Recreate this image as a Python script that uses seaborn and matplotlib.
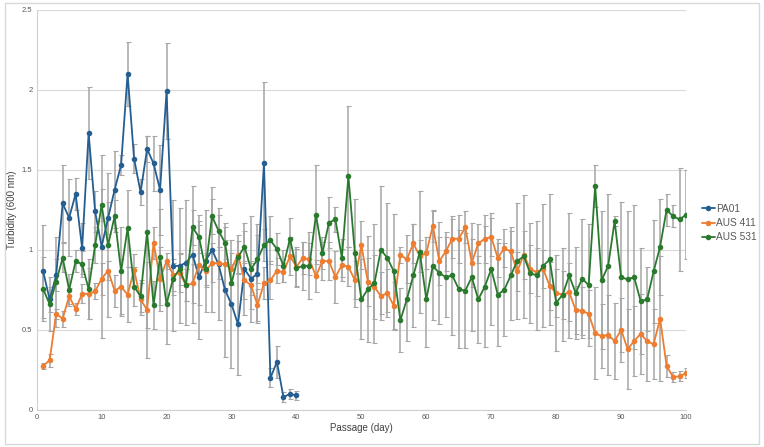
#Turbidity over passage days for three strains, with error bars
import numpy as np
import pandas as pd
import seaborn as sns
import matplotlib.pyplot as plt
from matplotlib.patches import Rectangle

#Data
pa01_days = list(range(1, 41))
pa01 = [0.865, 0.69, 0.84, 1.29, 1.20, 1.35, 1.01, 1.73, 1.24, 1.02,
        1.20, 1.375, 1.53, 2.10, 1.57, 1.36, 1.63, 1.54, 1.375, 1.99,
        0.90, 0.90, 0.92, 0.97, 0.83, 0.93, 1.00, 0.91, 0.75, 0.66,
        0.535, 0.88, 0.82, 0.85, 1.54, 0.20, 0.30, 0.08, 0.10, 0.09]
pa01_err = [0.29, 0.08, 0.10, 0.24, 0.24, 0.10, 0.16, 0.29, 0.13, 0.57,
            0.10, 0.24, 0.06, 0.20, 0.09, 0.08, 0.08, 0.17, 0.28, 0.30,
            0.41, 0.36, 0.39, 0.43, 0.39, 0.32, 0.39, 0.35, 0.42, 0.40,
            0.32, 0.29, 0.10, 0.31, 0.51, 0.06, 0.10, 0.03, 0.03, 0.03]

days = list(range(1, 101))
aus411 = [0.275, 0.31, 0.60, 0.57, 0.71, 0.63, 0.725, 0.725, 0.74, 0.82,
          0.87, 0.745, 0.77, 0.72, 0.875, 0.69, 0.625, 1.045, 0.82, 0.93,
          0.845, 0.855, 0.78, 0.79, 0.905, 0.865, 0.92, 0.915, 0.91, 0.88,
          0.97, 0.81, 0.78, 0.655, 0.79, 0.81, 0.87, 0.86, 0.96, 0.895,
          0.95, 0.94, 0.835, 0.93, 0.93, 0.83, 0.905, 0.895, 0.81, 1.03,
          0.80, 0.77, 0.71, 0.73, 0.65, 0.97, 0.94, 1.04, 0.96, 0.98,
          1.15, 0.93, 0.99, 1.07, 1.07, 1.14, 0.92, 1.04, 1.07, 1.08,
          0.95, 1.01, 0.99, 0.865, 0.97, 0.88, 0.86, 0.88, 0.775, 0.73,
          0.72, 0.735, 0.625, 0.62, 0.60, 0.48, 0.46, 0.47, 0.43, 0.50,
          0.38, 0.43, 0.475, 0.43, 0.41, 0.57, 0.275, 0.205, 0.21, 0.23]
aus411_err = [0.02, 0.04, 0.03, 0.05, 0.05, 0.04, 0.06, 0.16, 0.05, 0.10,
              0.06, 0.10, 0.17, 0.17, 0.10, 0.10, 0.30, 0.10, 0.20, 0.05,
              0.10, 0.12, 0.10, 0.12, 0.25, 0.10, 0.12, 0.10, 0.15, 0.10,
              0.12, 0.12, 0.15, 0.10, 0.10, 0.12, 0.08, 0.06, 0.12, 0.12,
              0.10, 0.10, 0.10, 0.12, 0.12, 0.16, 0.10, 0.12, 0.12, 0.15,
              0.15, 0.20, 0.15, 0.15, 0.15, 0.05, 0.15, 0.12, 0.10, 0.10,
              0.10, 0.15, 0.12, 0.12, 0.15, 0.10, 0.15, 0.12, 0.15, 0.12,
              0.12, 0.12, 0.15, 0.12, 0.15, 0.15, 0.15, 0.12, 0.15, 0.15,
              0.15, 0.18, 0.15, 0.15, 0.15, 0.29, 0.20, 0.25, 0.235, 0.20,
              0.25, 0.22, 0.25, 0.25, 0.22, 0.39, 0.07, 0.03, 0.03, 0.03]

aus531 = [0.755, 0.66, 0.80, 0.95, 0.75, 0.93, 0.91, 0.755, 1.03, 1.28,
          1.03, 1.21, 0.865, 1.135, 0.77, 0.71, 1.11, 0.655, 0.955, 0.66,
          0.82, 0.88, 0.78, 1.14, 1.08, 0.88, 1.21, 1.12, 1.045, 0.79,
          0.955, 1.02, 0.88, 0.94, 1.03, 1.06, 1.005, 0.90, 1.07, 0.885,
          0.90, 0.90, 1.22, 0.98, 1.17, 1.19, 0.95, 1.46, 0.98, 0.69,
          0.755, 0.79, 1.00, 0.95, 0.865, 0.56, 0.69, 0.84, 0.985, 0.69,
          0.90, 0.855, 0.83, 0.84, 0.755, 0.745, 0.83, 0.69, 0.77, 0.88,
          0.72, 0.75, 0.84, 0.93, 0.96, 0.855, 0.84, 0.90, 0.94, 0.67,
          0.72, 0.84, 0.73, 0.82, 0.78, 1.40, 0.81, 0.90, 1.18, 0.83,
          0.815, 0.83, 0.68, 0.69, 0.865, 1.02, 1.25, 1.21, 1.19, 1.22]
aus531_err = [0.20, 0.17, 0.28, 0.09, 0.10, 0.07, 0.08, 0.19, 0.11, 0.10,
              0.45, 0.10, 0.28, 0.24, 0.12, 0.10, 0.60, 0.15, 0.30, 0.25,
              0.10, 0.10, 0.10, 0.11, 0.10, 0.10, 0.11, 0.10, 0.10, 0.12,
              0.10, 0.10, 0.33, 0.15, 0.10, 0.15, 0.10, 0.10, 0.13, 0.12,
              0.15, 0.21, 0.31, 0.10, 0.16, 0.08, 0.12, 0.44, 0.34, 0.25,
              0.33, 0.37, 0.40, 0.34, 0.36, 0.20, 0.26, 0.32, 0.38, 0.30,
              0.34, 0.32, 0.25, 0.37, 0.37, 0.36, 0.34, 0.27, 0.38, 0.35,
              0.32, 0.29, 0.28, 0.36, 0.385, 0.31, 0.34, 0.385, 0.41, 0.30,
              0.29, 0.39, 0.29, 0.37, 0.38, 0.13, 0.43, 0.45, 0.03, 0.47,
              0.43, 0.45, 0.33, 0.20, 0.32, 0.30, 0.10, 0.07, 0.32, 0.28]

names = ["PA01", "AUS 411", "AUS 531"]
colors = {"PA01": "#255E91", "AUS 411": "#ED7D31", "AUS 531": "#2A7A2E"}

df = pd.concat([
    pd.DataFrame({"day": pa01_days, "value": pa01, "err": pa01_err, "series": "PA01"}),
    pd.DataFrame({"day": days, "value": aus411, "err": aus411_err, "series": "AUS 411"}),
    pd.DataFrame({"day": days, "value": aus531, "err": aus531_err, "series": "AUS 531"}),
], ignore_index=True)

sns.set_theme(style="whitegrid")
plt.rcParams['font.family'] = ['Liberation Sans', 'DejaVu Sans']

fig, ax = plt.subplots(figsize=(7.64, 4.47), dpi=100)
fig.subplots_adjust(left=0.048, right=0.898, bottom=0.083, top=0.978)

#error bars first, so the lines sit on top
for name in names:
    sub = df[df["series"] == name]
    eb = ax.errorbar(sub["day"], sub["value"], yerr=sub["err"], fmt="none",
                     ecolor="#a6a6a6", elinewidth=1.1, capsize=1.8,
                     capthick=0.8, zorder=2)
    for cap in eb[1]:
        cap.set_color("#4d4d4d")

sns.lineplot(data=df, x="day", y="value", hue="series", hue_order=names,
             palette=colors, marker="o", markersize=4, markeredgewidth=0,
             linewidth=1.3, estimator=None, sort=False, ax=ax, zorder=3)

ax.set_xlim(0, 100)
ax.set_ylim(0, 2.5)
ax.set_xticks(range(0, 101, 10))
ax.set_yticks([0, 0.5, 1, 1.5, 2, 2.5])
ax.set_yticklabels(["0", "0.5", "1", "1.5", "2", "2.5"])
ax.tick_params(labelsize=5.5, colors="#595959", length=0, pad=3)
ax.grid(axis="x", visible=False)
ax.grid(axis="y", color="#d9d9d9", linewidth=0.8)
for side in ["top", "right"]:
    ax.spines[side].set_visible(False)
for side in ["left", "bottom"]:
    ax.spines[side].set_color("#d0d0d0")
    ax.spines[side].set_linewidth(0.8)

ax.set_xlabel("Passage (day)", fontsize=7, color="#404040")
ax.set_ylabel("Turbidity (600 nm)", fontsize=7, color="#404040")
ax.xaxis.set_label_coords(0.5, -0.033)
ax.yaxis.set_label_coords(-0.03, 0.5)

handles, labels = ax.get_legend_handles_labels()
ax.get_legend().remove()
fig.legend(handles, labels, loc="center left", bbox_to_anchor=(0.909, 0.501),
           frameon=False, fontsize=7.3, labelcolor="#595959", handlelength=1.3,
           handletextpad=0.1, labelspacing=0.4, borderpad=0.2)

fig.patches.append(Rectangle((0.006, 0.007), 0.988, 0.986, transform=fig.transFigure,
                             fill=False, edgecolor="#d9d9d9", linewidth=1))

fig.savefig("out.png", dpi=100)
